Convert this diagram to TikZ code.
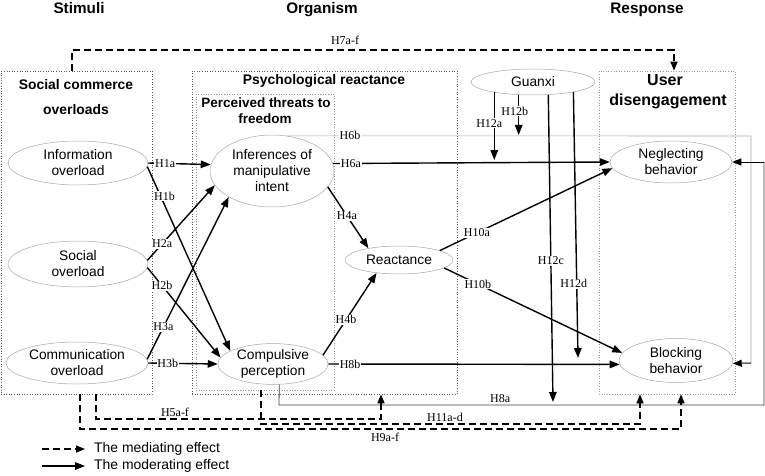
\documentclass[tikz,border=0pt]{standalone}
\usepackage{fontspec}
\setmainfont{Liberation Serif}
\newfontfamily\arialf{Liberation Sans}
\usetikzlibrary{arrows.meta,shapes.geometric,calc}
\begin{document}
\begin{tikzpicture}[x=1pt,y=-1pt,
  ell/.style={ellipse, draw=gray!70, line width=0.5pt, inner sep=0pt, align=center, font=\arialf\fontsize{13.8}{16}\selectfont},
  grpbox/.style={draw=black!65, dotted, line width=0.6pt, inner sep=0pt},
  hd/.style={font=\arialf\bfseries\fontsize{15.3}{18}\selectfont, anchor=base, inner sep=0pt},
  ttl/.style={font=\arialf\bfseries\fontsize{13.9}{16}\selectfont, anchor=base, inner sep=0pt},
  lab/.style={font=\fontsize{12}{12}\selectfont, fill=white, text=black, inner sep=0.8pt},
  labt/.style={font=\fontsize{12}{12}\selectfont, text=black, inner sep=0pt, anchor=base},
  legt/.style={font=\arialf\fontsize{13.9}{16}\selectfont, inner sep=0pt, anchor=west},
  arr/.style={line width=1.4pt, -{Triangle[length=10pt,width=7.5pt]}},
  darr/.style={line width=1.4pt, dash pattern=on 7pt off 4pt, -{Triangle[length=9pt,width=7pt]}},
  tarr/.style={line width=1pt, -{Triangle[length=9pt,width=7pt]}}
]
\useasboundingbox (0,0) rectangle (765,476);

% headers
\node[hd] (hs) at (79,14) {Stimuli};
\node[hd] (ho) at (322,14) {Organism};
\node[hd] (hr) at (647,14) {Response};

% group boxes
\node[grpbox, minimum width=151pt, minimum height=323pt] (scbox) at (76.5,232.5) {};
\node[grpbox, minimum width=265pt, minimum height=323pt] (prbox) at (324.5,232.5) {};
\node[grpbox, draw=gray!80, minimum width=138pt, minimum height=296pt] (ptbox) at (265,242) {};
\node[grpbox, draw=gray!80, minimum width=136pt, minimum height=323pt] (udebox) at (667,232.5) {};

% box titles
\node[ttl] (sc1) at (76,90) {Social commerce};
\node[ttl] (sc2) at (76,114) {overloads};
\node[ttl] (pr1) at (324,85) {Psychological reactance};
\node[ttl, font=\arialf\bfseries\fontsize{13.5}{16}\selectfont] (pt1) at (266,107) {Perceived threats to};
\node[ttl, font=\arialf\bfseries\fontsize{13.5}{16}\selectfont] (pt2) at (265,124) {freedom};
\node[ttl, font=\arialf\bfseries\fontsize{16}{18}\selectfont] (ud1) at (665,86) {User};
\node[ttl, font=\arialf\bfseries\fontsize{16}{18}\selectfont] (ud2) at (668,106) {disengagement};

% constructs
\node[ell, minimum width=140pt, minimum height=44pt] (info) at (78,163) {Information\\overload};
\node[ell, minimum width=140pt, minimum height=46pt] (social) at (78,264) {Social\\overload};
\node[ell, minimum width=142pt, minimum height=42pt] (comm) at (77,363) {Communication\\overload};
\node[ell, minimum width=124pt, minimum height=72pt] (inf) at (272,171) {Inferences of\\manipulative\\intent};
\node[ell, minimum width=110pt, minimum height=40pt] (comp) at (273,364) {Compulsive\\perception};
\node[ell, minimum width=108pt, minimum height=28pt] (react) at (399,260) {Reactance};
\node[ell, minimum width=124pt, minimum height=26pt] (guanxi) at (533,82) {Guanxi};
\node[ell, minimum width=122pt, minimum height=42pt] (negl) at (671,162) {Neglecting\\behavior};
\node[ell, minimum width=114pt, minimum height=44pt] (block) at (676,360.5) {Blocking\\behavior};

% helper coordinates
\coordinate (g6a) at (751,136);
\coordinate (g6b) at (751,363);
\coordinate (g8a) at (279,405);
\coordinate (g8b) at (764,405);
\coordinate (g8c) at (764,162);
\coordinate (m12a) at (495,160);
\coordinate (m12b) at (519,135);
\coordinate (m12c) at (553,402);
\coordinate (m12d) at (578,358);
\coordinate (h7) at (345,50);
\coordinate (h5) at (175,419);
\coordinate (h11) at (445,424);
\coordinate (h9) at (385,429);

% gray / loop paths (H6b, H8a)
\draw[gray!70, line width=0.6pt] (inf.67) -- node[lab, pos=.136]{H6b} (g6a) -- (g6b);
\draw[tarr] (g6b) -- (block.-3);
\draw[black!75, line width=0.8pt] (comp.-73) -- (g8a) -- node[labt, pos=.456, yshift=2.5pt]{H8a} (g8b) -- (g8c);
\draw[tarr] (g8c) -- (negl.east);

% main paths
\draw[arr] (info.east) -- node[lab, pos=.27]{H1a} (inf.174);
\draw[arr] (info.-3) -- node[lab, pos=.16, xshift=4pt]{H1b} (comp.163);
\draw[arr] (social.3) -- node[lab, pos=.22]{H2a} (inf.194);
\draw[arr] (social.-3) -- node[lab, pos=.2]{H2b} (comp.173);
\draw[arr] (comm.3) -- node[lab, pos=.2]{H3a} (inf.211);
\draw[arr] (comm.east) -- node[lab, pos=.28]{H3b} (comp.west);
\draw[arr] (inf.-16) -- node[lab, pos=.47]{H4a} (react.159);
\draw[arr] (comp.10) -- node[lab, pos=.43]{H4b} (react.210);
\draw[arr] (inf.7) -- node[lab, pos=.065]{H6a} (negl.west);
\draw[arr] (comp.east) -- node[lab, pos=.075]{H8b} (block.184);
\draw[arr] (react.13) -- node[lab, pos=.215]{H10a} (negl.186);
\draw[arr] (react.-10) -- node[lab, pos=.19]{H10b} (block.172);

% moderation by guanxi
\draw[arr] (guanxi.195) -- node[lab, pos=.456, xshift=-5pt]{H12a} (guanxi.195 |- m12a);
\draw[arr] (guanxi.222) -- node[lab, pos=.406, xshift=-4pt]{H12b} (guanxi.222 |- m12b);
\draw[arr] (guanxi.-40) -- node[lab, pos=.54]{H12c} (m12c);
\draw[arr] (guanxi.-14) -- node[lab, pos=.72, xshift=-3pt]{H12d} (m12d);

% mediation (dashed)
\draw[darr] ([xshift=-4.5pt]scbox.north) |- (h7) -| ([xshift=7pt]udebox.north);
\node[labt] (h7l) at (345,45) {H7a-f};
\draw[darr] ([xshift=19.5pt]scbox.south) |- (h5) -| ([xshift=56.5pt]prbox.south);
\node[labt] (h5l) at (175,416) {H5a-f};
\draw[darr] ([xshift=-4pt]ptbox.south) |- (h11) -| ([xshift=-27pt]udebox.south);
\node[labt] (h11l) at (445,421) {H11a-d};
\draw[darr] ([xshift=3.5pt]scbox.south) |- (h9) -| ([xshift=14pt]udebox.south);
\node[labt] (h9l) at (385,441) {H9a-f};

% legend
\coordinate (lg1) at (42,449);
\coordinate (lg2) at (42,466);
\node[legt] (lt1) at (94,449) {The mediating effect};
\node[legt] (lt2) at (94,466) {The moderating effect};
\draw[darr] (lg1) -- ([xshift=-9pt]lt1.west);
\draw[arr] (lg2) -- ([xshift=-9pt]lt2.west);
\end{tikzpicture}
\end{document}
